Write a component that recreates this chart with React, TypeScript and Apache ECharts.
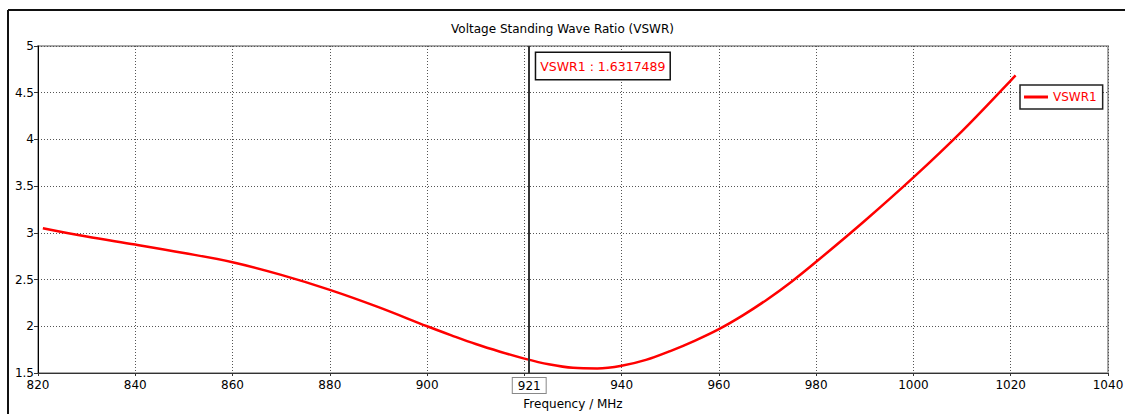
import React, { useEffect, useRef } from "react";
import * as echarts from "echarts";

const titleText = "Voltage Standing Wave Ratio (VSWR)";
const xAxisName = "Frequency / MHz";
const seriesName = "VSWR1";
const frequencies = [821, 830, 840, 850, 860, 870, 880, 890, 900, 905, 910, 915, 920, 925, 930, 935, 940, 945, 950, 955, 960, 965, 970, 975, 980, 990, 1000, 1010, 1020, 1021];
const vswrValues = [3.05, 2.96, 2.875, 2.785, 2.685, 2.55, 2.39, 2.205, 2.0, 1.903, 1.81, 1.728, 1.654, 1.593, 1.555, 1.549, 1.577, 1.64, 1.735, 1.845, 1.97, 2.12, 2.29, 2.48, 2.69, 3.13, 3.594, 4.09, 4.63, 4.685];
const markerFreq = 921;
const markerValue = "1.6317489";
const xMin = 820, xMax = 1040, xStep = 20;
const yMin = 1.5, yMax = 5, yStep = 0.5;

const FONT = "DejaVu Sans";

export default function App() {
  const ref = useRef<HTMLDivElement>(null);
  useEffect(() => {
    if (!ref.current) return;
    const chart = echarts.init(ref.current, null, { renderer: "svg" });
    const data = frequencies.map((f, i) => [f, vswrValues[i]]);
    chart.setOption({
      animation: false,
      backgroundColor: "#ffffff",
      title: {
        text: titleText,
        left: "center",
        top: 18,
        textStyle: { fontFamily: FONT, fontSize: 12, fontWeight: "normal", color: "#000" },
      },
      legend: {
        data: [seriesName],
        left: 1020,
        top: 85,
        orient: "vertical",
        icon: "rect",
        itemWidth: 24,
        itemHeight: 3,
        padding: [6, 6, 6, 4],
        borderColor: "#222",
        borderWidth: 1.5,
        backgroundColor: "#fff",
        textStyle: { fontFamily: FONT, fontSize: 12, color: "#ff0000" },
      },
      grid: {
        left: 38,
        right: 17,
        top: 46,
        bottom: 41,
        containLabel: false,
        outerBoundsMode: "none",
        show: true,
        borderColor: "#a8a8a8",
        borderWidth: 2,
        backgroundColor: "#fff",
      },
      xAxis: {
        type: "value",
        min: xMin,
        max: xMax,
        interval: xStep,
        name: xAxisName,
        nameLocation: "middle",
        nameGap: 25,
        nameTextStyle: { fontFamily: FONT, fontSize: 12, color: "#000" },
        axisLine: { show: true, lineStyle: { color: "#333", width: 1 } },
        axisTick: { show: true, length: 3, lineStyle: { color: "#333" } },
        axisLabel: {
          fontFamily: FONT,
          fontSize: 12,
          color: "#000",
          margin: 6,
          showMinLabel: true,
          showMaxLabel: true,
          formatter: (v: number) => (v === 920 ? "" : String(v)),
        },
        splitLine: { show: true, lineStyle: { color: "#555", type: [1, 2], width: 1 } },
      },
      yAxis: {
        type: "value",
        min: yMin,
        max: yMax,
        interval: yStep,
        axisLine: { show: true, lineStyle: { color: "#000", width: 1 } },
        axisTick: { show: true, length: 4, lineStyle: { color: "#333" } },
        axisLabel: { fontFamily: FONT, fontSize: 12, color: "#000", margin: 4 },
        splitLine: { show: true, lineStyle: { color: "#555", type: [1, 2], width: 1 } },
      },
      series: [
        {
          name: seriesName,
          type: "line",
          data,
          smooth: 0.35,
          showSymbol: false,
          lineStyle: { color: "#ff0000", width: 2.5 },
          itemStyle: { color: "#ff0000" },
          markLine: {
            silent: true,
            symbol: "none",
            label: { show: false },
            lineStyle: { color: "#333", width: 2, type: "solid" },
            data: [{ xAxis: markerFreq }],
          },
        },
      ],
    });
    const top = chart.convertToPixel({ xAxisIndex: 0, yAxisIndex: 0 }, [markerFreq, yMax]) as number[];
    const bot = chart.convertToPixel({ xAxisIndex: 0, yAxisIndex: 0 }, [markerFreq, yMin]) as number[];
    chart.setOption({
      graphic: [
        { type: "line", shape: { x1: 8, y1: 10, x2: 1125, y2: 10 }, style: { stroke: "#111", lineWidth: 2 } },
        { type: "line", shape: { x1: 8, y1: 10, x2: 8, y2: 414 }, style: { stroke: "#111", lineWidth: 2 } },
        {
          type: "text",
          x: top[0] + 7,
          y: top[1] + 7,
          style: {
            text: seriesName + " : " + markerValue,
            fill: "#ff0000",
            font: "12.5px " + FONT,
            backgroundColor: "#fff",
            borderColor: "#111",
            borderWidth: 1.5,
            padding: [7, 4, 6, 4],
          },
        },
        {
          type: "text",
          x: bot[0],
          y: bot[1] + 5,
          style: {
            text: String(markerFreq),
            fill: "#000",
            font: "12px " + FONT,
            align: "center",
            backgroundColor: "#fff",
            borderColor: "#888",
            borderWidth: 1,
            padding: [2, 5, 1, 5],
          },
        },
      ],
    });
    return () => chart.dispose();
  }, []);
  return (
    <div
      ref={ref}
      style={{ position: "fixed", left: 0, top: 0, width: 1125, height: 414 }}
    />
  );
}
